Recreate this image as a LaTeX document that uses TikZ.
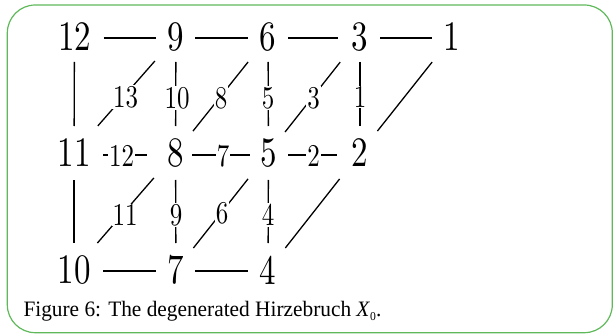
\documentclass[tikz,border=0pt]{standalone}
\usepackage{graphicx}
\usepackage{fontspec}
\newfontfamily\capfont{Liberation Serif}
\definecolor{frameGreen}{RGB}{95,185,90}
\newcommand\bigdig[1]{\scalebox{3.3}[4.19]{\fontsize{10}{10}\selectfont #1}}
\newcommand\smdig[1]{\scalebox{2.5}[3.17]{\fontsize{10}{10}\selectfont #1}}
\tikzset{
  bignum/.style={inner sep=0pt, outer sep=0pt},
  lblnum/.style={inner sep=0.8pt, fill=white},
  edge/.style={line width=1.3pt, black},
  hline/.style={edge, shorten <=20pt, shorten >=20pt},
  vline/.style={edge, shorten <=25pt, shorten >=27pt},
  vlinelow/.style={edge, shorten <=27pt, shorten >=27pt},
  dline/.style={edge, shorten <=32pt, shorten >=28pt},
  dlinelow/.style={edge, shorten <=33pt, shorten >=28pt},
}
\begin{document}
\begin{tikzpicture}[x=1pt, y=-1pt]
\useasboundingbox (0,0) rectangle (613,334);
\draw[frameGreen, line width=1.2pt, rounded corners=28pt] (7.3,5) rectangle (612.3,332.7);

% big numbers
\node[bignum] (n12) at (74.5,37) {\bigdig{12}};
\node[bignum] (n9)  at (176,37) {\bigdig{9}};
\node[bignum] (n6)  at (268,37) {\bigdig{6}};
\node[bignum] (n3)  at (360,37) {\bigdig{3}};
\node[bignum] (n1)  at (452,37) {\bigdig{1}};
\node[bignum] (n11) at (74,153) {\bigdig{11}};
\node[bignum] (n8)  at (175.5,153) {\bigdig{8}};
\node[bignum] (n5)  at (268.5,153) {\bigdig{5}};
\node[bignum] (n2)  at (360,153) {\bigdig{2}};
\node[bignum] (n10) at (74,270) {\bigdig{10}};
\node[bignum] (n7)  at (176,270) {\bigdig{7}};
\node[bignum] (n4)  at (268,270) {\bigdig{4}};

% row 1 horizontals
\draw[hline, shorten <=29pt] ([yshift=-1pt]n12.center) -- ([yshift=-1pt]n9.center);
\draw[hline, shorten <=19pt] ([yshift=-1pt]n9.center) -- ([yshift=-1pt]n6.center);
\draw[hline, shorten >=22pt] ([yshift=-1pt]n6.center) -- ([yshift=-1pt]n3.center);
\draw[hline] ([yshift=-1pt]n3.center) -- ([yshift=-1pt]n1.center);
% row 3 horizontals
\draw[hline, shorten <=29pt] ([yshift=-1pt]n10.center) -- ([yshift=-1pt]n7.center);
\draw[hline, shorten <=19pt] ([yshift=-1pt]n7.center) -- ([yshift=-1pt]n4.center);
% row 2 horizontals
\draw[edge, shorten <=29pt, shorten >=28.5pt] ([yshift=-2pt]n11.center) -- ([yshift=-2pt]n8.center);
\draw[edge, shorten <=16.5pt, shorten >=18.5pt] ([yshift=-2pt]n8.center) -- ([yshift=-2pt]n5.center);
\draw[edge, shorten <=19.5pt, shorten >=23pt] ([yshift=-2pt]n5.center) -- ([yshift=-2pt]n2.center);

% verticals
\draw[vline] (n12.center) -- (n11.center);
\draw[vline] (n9.center) -- (n8.center);
\draw[vline] (n6.center) -- (n5.center);
\draw[vline] (n3.center) -- (n2.center);
\draw[vlinelow] (n11.center) -- (n10.center);
\draw[vlinelow] (n8.center) -- (n7.center);
\draw[vlinelow] (n5.center) -- (n4.center);

% diagonals
\draw[dline, shorten >=36pt] (n9.center) -- (n11.center);
\draw[dline] (n6.center) -- (n8.center);
\draw[dline, shorten >=26.7pt] (n3.center) -- (n5.center);
\draw[dline] (n1.center) -- (n2.center);
\draw[dlinelow, shorten >=35.7pt] (n8.center) -- (n10.center);
\draw[dlinelow] (n5.center) -- (n7.center);
\draw[dlinelow] (n2.center) -- (n4.center);

% labels
\node[lblnum] (l13) at (125.5,97) {\smdig{13}};
\node[lblnum] (l10) at (177,98) {\smdig{10}};
\node[lblnum] (l8)  at (221,98) {\smdig{8}};
\node[lblnum] (l5)  at (268,98) {\smdig{5}};
\node[lblnum] (l3)  at (313.5,98) {\smdig{3}};
\node[lblnum] (l1)  at (360,97) {\smdig{1}};
\node[lblnum] (l12) at (121.5,156) {\smdig{12}};
\node[lblnum] (l7)  at (223,156) {\smdig{7}};
\node[lblnum] (l2)  at (313.5,156) {\smdig{2}};
\node[lblnum] (l11) at (125,215) {\smdig{11}};
\node[lblnum] (l9)  at (176,215) {\smdig{9}};
\node[lblnum] (l6)  at (222,213) {\smdig{6}};
\node[lblnum] (l4)  at (268,215) {\smdig{4}};

% caption
\node[anchor=base west, inner sep=0pt] (cap) at (23.3,316.7)
  {\scalebox{0.97}[1]{\capfont\fontsize{22}{22}\selectfont Figure 6: The degenerated Hirzebruch \textit{X}\raisebox{-3.5pt}{\fontsize{12}{12}\selectfont 0}.}};
\end{tikzpicture}
\end{document}
